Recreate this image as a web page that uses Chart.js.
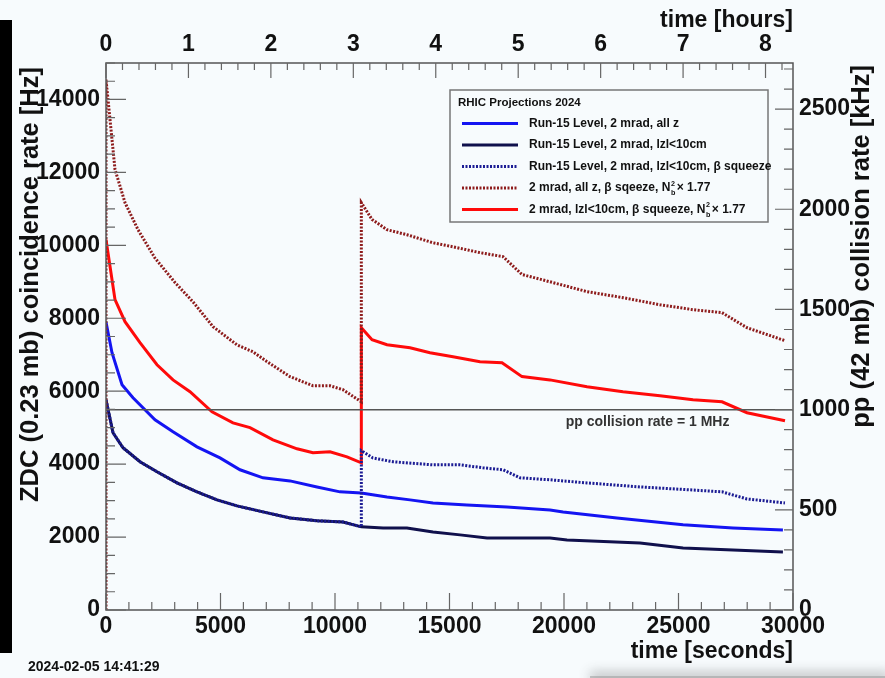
<!DOCTYPE html>
<html lang="en">
<head>
<meta charset="utf-8" />
<title>RHIC Projections 2024</title>
<script src="https://cdn.jsdelivr.net/npm/chart.js@4.4.1/dist/chart.umd.min.js"></script>
<style>
  html, body { margin: 0; padding: 0; background: #f7fbfd; }
  canvas { display: block; }
</style>
</head>
<body>
<canvas id="rateChart" width="885" height="678"></canvas>
<script>
// values: time [s], ZDC coincidence rate [Hz]
var tRun15AllZ = [0, 262, 699, 1179, 2140, 2926, 3974, 4978, 5852, 6856, 8035, 9214, 10218, 11150, 12270, 13275, 14280, 15760, 17510, 19390, 19960, 22310, 25200, 27380, 29560];
var rateRun15AllZ = [7900, 7055, 6175, 5820, 5215, 4885, 4475, 4170, 3845, 3625, 3540, 3375, 3240, 3210, 3100, 3020, 2935, 2880, 2825, 2745, 2690, 2525, 2335, 2250, 2195];

var tRun15Z10 = [0, 306, 742, 1485, 2227, 3100, 3974, 4847, 5721, 6856, 8035, 9214, 10349, 11150, 12100, 13140, 14280, 15460, 16640, 17640, 19390, 20130, 23320, 25200, 27380, 29560];
var rateRun15Z10 = [5765, 4860, 4450, 4065, 3790, 3485, 3240, 3020, 2855, 2690, 2525, 2445, 2415, 2280, 2250, 2250, 2140, 2060, 1975, 1975, 1975, 1920, 1840, 1700, 1645, 1590];

var tRun15Z10Sq = [0, 306, 742, 1485, 2227, 3100, 3974, 4847, 5721, 6856, 8035, 9214, 10349, 11150, 11150, 11650, 12530, 14280, 15460, 16460, 17340, 18080, 19390, 21000, 23320, 25500, 26900, 27990, 29650];
var rateRun15Z10Sq = [5765, 4860, 4450, 4065, 3790, 3485, 3240, 3020, 2855, 2690, 2525, 2445, 2415, 2280, 4370, 4170, 4065, 3980, 3980, 3900, 3845, 3625, 3570, 3485, 3375, 3295, 3240, 3045, 2935];

var tAllZSq = [0, 0, 393, 830, 1397, 2140, 3013, 3799, 4672, 5721, 6419, 7031, 8035, 9039, 9782, 10349, 11150, 11150, 11616, 12271, 13144, 14279, 15153, 16332, 17336, 18166, 19389, 21004, 22576, 24192, 25633, 26900, 27991, 29651];
var rateAllZSq = [0, 14550, 12080, 11170, 10430, 9650, 8980, 8450, 7770, 7270, 7080, 6810, 6400, 6150, 6150, 6040, 5710, 11170, 10710, 10430, 10290, 10070, 9960, 9800, 9690, 9200, 9000, 8730, 8565, 8370, 8235, 8155, 7740, 7385];

var tZ10Sq = [0, 393, 830, 1485, 2227, 2926, 3668, 4629, 5546, 6288, 7293, 8341, 9039, 9782, 10524, 11150, 11150, 11616, 12271, 13275, 14148, 15153, 16332, 17293, 18166, 19389, 21004, 22576, 24192, 25633, 26900, 27991, 29651];
var rateZ10Sq = [10160, 8510, 7905, 7330, 6725, 6310, 5985, 5435, 5130, 5000, 4665, 4420, 4310, 4340, 4200, 4035, 7740, 7410, 7275, 7190, 7055, 6945, 6810, 6780, 6400, 6310, 6120, 5985, 5875, 5765, 5710, 5410, 5190];

var seriesLabels = [
  "Run-15 Level, 2 mrad, all z",
  "Run-15 Level, 2 mrad, lzl<10cm",
  "Run-15 Level, 2 mrad, lzl<10cm, \u03b2 squeeze",
  "2 mrad, all z, \u03b2 sqeeze, N_b^2\u00d7 1.77",
  "2 mrad, lzl<10cm, \u03b2 squeeze, N_b^2\u00d7 1.77"
];

// tick labels
var secTicks = [0, 5000, 10000, 15000, 20000, 25000, 30000];
var hourTicks = [0, 1, 2, 3, 4, 5, 6, 7, 8];
var rateTicks = [0, 2000, 4000, 6000, 8000, 10000, 12000, 14000];
var ppTicks = [0, 500, 1000, 1500, 2000, 2500];

var maxTime = 30000;     // s
var maxRate = 15000;     // Hz
var maxPP = 2730;        // kHz, right axis (1 MHz pp = 5490 Hz ZDC)
var ppLine = 1000;       // kHz

var FONT = "'Liberation Sans', Arial, sans-serif";

let toPoints = (t, r) => t.map((v, i) => ({ x: v, y: r[i] }));

let makeSet = (i, t, r, color, dash, order) => ({
  label: seriesLabels[i],
  data: toPoints(t, r),
  borderColor: color,
  borderWidth: 3,
  borderDash: dash,
  pointRadius: 0,
  tension: 0,
  fill: false,
  order: order,
  xAxisID: "x",
  yAxisID: "y",
});

// inward ticks like the ROOT frame
let drawTicks = (ctx, scale, major, minor, side, majLen, minLen) => {
  ctx.beginPath();
  for (let v = scale.min; v <= scale.max + 1e-9; v += minor) {
    let isMajor = Math.abs(v / major - Math.round(v / major)) < 1e-6;
    let len = isMajor ? majLen : minLen;
    let p = scale.getPixelForValue(v);
    if (side === "bottom") { ctx.moveTo(p, scale.top); ctx.lineTo(p, scale.top - len); }
    if (side === "top") { ctx.moveTo(p, scale.bottom); ctx.lineTo(p, scale.bottom + len); }
    if (side === "left") { ctx.moveTo(scale.right, p); ctx.lineTo(scale.right + len, p); }
    if (side === "right") { ctx.moveTo(scale.left, p); ctx.lineTo(scale.left - len, p); }
  }
  ctx.stroke();
};

let drawRich = (ctx, text, x, y, size) => {
  let parts = text.split("N_b^2");
  ctx.textAlign = "left";
  ctx.textBaseline = "middle";
  ctx.font = "bold " + size + "px " + FONT;
  ctx.fillText(parts[0], x, y);
  if (parts.length < 2) return;
  x += ctx.measureText(parts[0]).width;
  ctx.fillText("N", x, y);
  x += ctx.measureText("N").width;
  ctx.font = "bold " + (size * 0.6) + "px " + FONT;
  ctx.fillText("2", x + 0.5, y - size * 0.35);
  ctx.fillText("b", x + 0.5, y + size * 0.45);
  x += ctx.measureText("b").width + 2;
  ctx.font = "bold " + size + "px " + FONT;
  ctx.fillText(parts[1], x, y);
};

let framePlugin = {
  id: "rootFrame",
  beforeDraw(chart) {
    let ctx = chart.ctx;
    ctx.save();
    ctx.fillStyle = "#f7fbfd";
    ctx.fillRect(0, 0, chart.width, chart.height);
    ctx.fillStyle = "#000";
    ctx.fillRect(0, 20, 12, 633);
    // soft shadow at the lower right edge of the screenshot
    ctx.shadowColor = "rgba(60,60,60,0.6)";
    ctx.shadowBlur = 12;
    ctx.shadowOffsetY = -4;
    ctx.fillStyle = "rgba(150,150,150,0.5)";
    ctx.fillRect(590, 676, 300, 10);
    ctx.restore();
  },
  afterDatasetsDraw(chart) {
    let ctx = chart.ctx;
    let a = chart.chartArea;
    let s = chart.scales;
    ctx.save();

    // pp collision rate = 1 MHz
    let yl = s.y2.getPixelForValue(ppLine);
    ctx.strokeStyle = "#555";
    ctx.lineWidth = 1.5;
    ctx.beginPath();
    ctx.moveTo(a.left, yl);
    ctx.lineTo(a.right, yl);
    ctx.stroke();
    ctx.fillStyle = "#333";
    ctx.font = "bold 14px " + FONT;
    ctx.textAlign = "center";
    ctx.textBaseline = "middle";
    ctx.fillText("pp collision rate = 1 MHz", s.x.getPixelForValue(23650), yl + 13);

    // frame and ticks
    ctx.strokeStyle = "#555";
    ctx.lineWidth = 1.5;
    ctx.strokeRect(a.left, a.top, a.right - a.left, a.bottom - a.top);
    ctx.lineWidth = 1.2;
    ctx.strokeStyle = "#666";
    drawTicks(ctx, s.x, 5000, 1000, "bottom", 17, 8);
    drawTicks(ctx, s.x2, 1, 0.2, "top", 15, 7);
    drawTicks(ctx, s.y, 2000, 500, "left", 20, 9);
    drawTicks(ctx, s.y2, 500, 100, "right", 18, 9);

    // legend
    let lx = 450, ly = 90, lw = 318, lh = 132;
    ctx.fillStyle = "#f7fbfd";
    ctx.fillRect(lx, ly, lw, lh);
    ctx.strokeStyle = "#777";
    ctx.lineWidth = 1.5;
    ctx.strokeRect(lx, ly, lw, lh);
    ctx.fillStyle = "#111";
    ctx.font = "bold 11.5px " + FONT;
    ctx.textAlign = "left";
    ctx.textBaseline = "middle";
    ctx.fillText("RHIC Projections 2024", 458, 103);
    chart.data.datasets.forEach((ds, i) => {
      let yy = 123.5 + i * 21.5;
      ctx.save();
      ctx.strokeStyle = ds.borderColor;
      ctx.lineWidth = 3;
      ctx.setLineDash(ds.borderDash || []);
      ctx.beginPath();
      ctx.moveTo(462, yy);
      ctx.lineTo(518, yy);
      ctx.stroke();
      ctx.restore();
      ctx.fillStyle = "#111";
      drawRich(ctx, ds.label, 529, yy, 12);
    });

    // axis titles
    ctx.fillStyle = "#111";
    ctx.font = "bold 23px " + FONT;
    ctx.textAlign = "right";
    ctx.textBaseline = "middle";
    ctx.fillText("time [hours]", 793, 21);
    ctx.fillText("time [seconds]", 793, 652);
    ctx.font = "bold 25.5px " + FONT;
    ctx.save();
    ctx.translate(31, 67);
    ctx.rotate(-Math.PI / 2);
    ctx.fillText("ZDC (0.23 mb) coincidence rate [Hz]", 0, 0);
    ctx.restore();
    ctx.save();
    ctx.translate(862, 65);
    ctx.rotate(-Math.PI / 2);
    ctx.fillText("pp (42 mb) collision rate [kHz]", 0, 0);
    ctx.restore();

    ctx.font = "bold 14px " + FONT;
    ctx.textAlign = "left";
    ctx.fillText("2024-02-05 14:41:29", 28, 667);
    ctx.restore();
  },
};

let tickFont = { family: FONT, size: 23, weight: "bold" };
let plain = (v) => String(v);
let fixedTicks = (list) => (sc) => { sc.ticks = list.map((v) => ({ value: v })); };

let axis = (extra) => Object.assign({
  type: "linear",
  grid: { display: false, drawTicks: false },
  border: { display: false },
}, extra);

let rateChart = new Chart(document.getElementById("rateChart"), {
  type: "line",
  data: {
    datasets: [
      makeSet(0, tRun15AllZ, rateRun15AllZ, "#1414f2", [], 4),
      makeSet(1, tRun15Z10, rateRun15Z10, "#10104c", [], 3),
      makeSet(2, tRun15Z10Sq, rateRun15Z10Sq, "#1c1c94", [2, 1.5], 2),
      makeSet(3, tAllZSq, rateAllZSq, "#8e1c1c", [2, 1.5], 1),
      makeSet(4, tZ10Sq, rateZ10Sq, "#ff0a0a", [], 5),
    ],
  },
  options: {
    responsive: false,
    animation: false,
    layout: { padding: 0 },
    plugins: { legend: { display: false }, tooltip: { enabled: false } },
    scales: {
      x: axis({
        position: "bottom", min: 0, max: maxTime,
        ticks: { font: tickFont, color: "#111", padding: 3, maxRotation: 0, autoSkip: false, callback: plain },
        afterBuildTicks: fixedTicks(secTicks),
        afterFit: (sc) => { sc.height = 68; },
      }),
      x2: axis({
        position: "top", min: 0, max: maxTime / 3600,
        ticks: { font: tickFont, color: "#111", padding: 5, maxRotation: 0, autoSkip: false, callback: plain },
        afterBuildTicks: fixedTicks(hourTicks),
        afterFit: (sc) => { sc.height = 63; },
      }),
      y: axis({
        position: "left", min: 0, max: maxRate,
        ticks: { font: tickFont, color: "#111", padding: 6, autoSkip: false, callback: plain },
        afterBuildTicks: fixedTicks(rateTicks),
        afterFit: (sc) => { sc.width = 106; },
      }),
      y2: axis({
        position: "right", min: 0, max: maxPP,
        ticks: { font: tickFont, color: "#111", padding: 6, autoSkip: false, callback: plain },
        afterBuildTicks: fixedTicks(ppTicks),
        afterFit: (sc) => { sc.width = 92; },
      }),
    },
  },
  plugins: [framePlugin],
});
</script>
</body>
</html>
